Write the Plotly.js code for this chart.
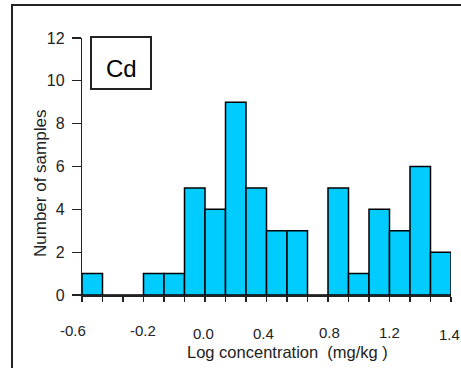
<!DOCTYPE html>
<html>
<head>
<meta charset="utf-8">
<script src="https://cdn.plot.ly/plotly-3.0.1.min.js"></script>
<style>
html,body{margin:0;padding:0;background:#fff;overflow:hidden;width:461px;height:368px;}
#wrap{position:relative;width:461px;height:368px;overflow:hidden;}
#chart{position:absolute;left:0;top:0;width:461px;height:368px;}
#frame{position:absolute;left:11px;top:4px;width:600px;height:600px;border-left:2px solid #222;border-top:2px solid #222;pointer-events:none;}
</style>
</head>
<body>
<div id="wrap"><div id="chart"></div><div id="frame"></div></div>
<script>
// Histogram counts per bin (18 bins from -0.6 to 1.4 log mg/kg)
var counts = [1, 0, 0, 1, 1, 5, 4, 9, 5, 3, 3, 0, 5, 1, 4, 3, 6, 2];
var binStart = -0.6;
var binEnd = 1.4;
// Tick labels as drawn under the axis (irregularly placed in the original)
var xTickLabels = ["-0.6", "-0.2", "0.0", "0.4", "0.8", "1.2", "1.4"];
var xTickLabelPos = [-0.649, -0.269, 0.056, 0.386, 0.739, 1.064, 1.393];
var xTickLabelShift = [-35, -35, -38, -38, -37, -37, -39];
var yTickVals = [0, 2, 4, 6, 8, 10, 12];
var label = "Cd";
var xTitle = "Log concentration  (mg/kg )";
var yTitle = "Number of samples";

var nBins = counts.length;
var bw = (binEnd - binStart) / nBins;
var centers = [], edges = [];
for (var i = 0; i < nBins; i++) centers.push(binStart + bw * (i + 0.5));
for (var j = 0; j <= nBins; j++) edges.push(binStart + bw * j);

var font = "Liberation Sans, Arial, sans-serif";
var txt = "#222222";

var annotations = [];
for (var k = 0; k < xTickLabels.length; k++) {
  annotations.push({
    x: (xTickLabelPos[k] - binStart) / (binEnd - binStart), xref: "paper", y: 0, yref: "paper",
    text: xTickLabels[k], showarrow: false, xanchor: "center", yanchor: "middle",
    yshift: xTickLabelShift[k], font: {family: font, size: 15, color: txt}
  });
}
annotations.push({
  x: (287 - 82) / 369, xref: "paper", y: (295 - 352) / 257, yref: "paper",
  text: xTitle, showarrow: false, xanchor: "center", yanchor: "middle",
  font: {family: font, size: 16.5, color: txt}
});
annotations.push({
  x: (40 - 82) / 369, xref: "paper", y: (295 - 184) / 257, yref: "paper",
  text: yTitle, showarrow: false, textangle: -90, xanchor: "center", yanchor: "middle",
  font: {family: font, size: 17, color: txt}
});
annotations.push({
  x: (121 - 82) / 369, xref: "paper", y: (295 - 68) / 257, yref: "paper",
  text: label, showarrow: false, xanchor: "center", yanchor: "middle",
  font: {family: font, size: 24, color: "#000"}
});

var trace = {
  type: "bar", x: centers, y: counts, width: bw,
  marker: {color: "#00CCFF", line: {color: "#000000", width: 1.5}},
  hoverinfo: "skip"
};

var layout = {
  width: 461, height: 368,
  margin: {l: 82, r: 10, t: 38, b: 73, pad: 0},
  paper_bgcolor: "rgba(0,0,0,0)", plot_bgcolor: "rgba(0,0,0,0)",
  showlegend: false,
  xaxis: {
    range: [binStart, binEnd], showgrid: false, zeroline: false,
    showline: true, linecolor: "#222", linewidth: 1.5,
    ticks: "outside", ticklen: 5, tickwidth: 1.2, tickcolor: "#222",
    tickmode: "array", tickvals: edges, showticklabels: false, fixedrange: true
  },
  yaxis: {
    range: [0, 12], showgrid: false, zeroline: false,
    showline: true, linecolor: "#222", linewidth: 1.2,
    ticks: "outside", ticklen: 9, tickwidth: 1.2, tickcolor: "#222",
    tickmode: "array", tickvals: yTickVals, ticklabelstandoff: 4,
    tickfont: {family: font, size: 16, color: txt}, fixedrange: true
  },
  shapes: [
    {type: "rect", xref: "paper", yref: "paper",
     x0: (91 - 82) / 369, x1: (151 - 82) / 369, y0: (295 - 89) / 257, y1: (295 - 37) / 257,
     line: {color: "#222", width: 2}, fillcolor: "rgba(0,0,0,0)"}
  ],
  annotations: annotations
};

Plotly.newPlot("chart", [trace], layout, {displayModeBar: false, staticPlot: true});
</script>
</body>
</html>
